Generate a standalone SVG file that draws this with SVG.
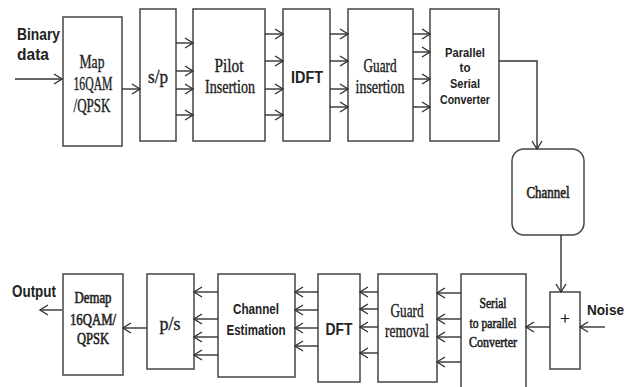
<svg xmlns="http://www.w3.org/2000/svg" width="627" height="387" viewBox="0 0 627 387">
<defs>
<marker id="ah" markerWidth="12" markerHeight="12" refX="10" refY="6" orient="auto" markerUnits="userSpaceOnUse">
<path d="M2,1 L10,6 L2,11" fill="none" stroke="#333" stroke-width="1.4"/>
</marker>
<style>
.box{fill:#fff;stroke:#444;stroke-width:1.5}
.ar{fill:none;stroke:#333;stroke-width:1.4;marker-end:url(#ah)}
.sf{font-family:"Liberation Serif",serif;fill:#222;stroke:#222;stroke-width:0.35;text-anchor:middle}
.sb{stroke-width:0.6}
.ss{font-family:"Liberation Sans",sans-serif;font-weight:bold;fill:#222}
.c{text-anchor:middle}
</style>
</defs>
<rect width="627" height="387" fill="#fff"/>

<g id="labels">
<text class="ss" x="17" y="40" font-size="17" textLength="43" lengthAdjust="spacingAndGlyphs">Binary</text>
<text class="ss" x="17" y="60" font-size="17" textLength="32" lengthAdjust="spacingAndGlyphs">data</text>
<text class="ss" x="12" y="297" font-size="16" textLength="44" lengthAdjust="spacingAndGlyphs">Output</text>
<text class="ss" x="587" y="315" font-size="15" textLength="37" lengthAdjust="spacingAndGlyphs">Noise</text>
</g>

<g id="map">
<rect class="box" x="63" y="17" width="59" height="129"/>
<text class="sf" x="92" y="68" font-size="18" textLength="25" lengthAdjust="spacingAndGlyphs">Map</text>
<text class="sf" x="93" y="90" font-size="18" textLength="39" lengthAdjust="spacingAndGlyphs">16QAM</text>
<text class="sf" x="92" y="112" font-size="18" textLength="37" lengthAdjust="spacingAndGlyphs">/QPSK</text>
</g>
<g id="sp">
<rect class="box" x="140" y="9" width="36" height="132"/>
<text class="sf" x="158" y="83" font-size="18" textLength="20" lengthAdjust="spacingAndGlyphs">s/p</text>
</g>
<g id="pilot">
<rect class="box" x="193" y="9" width="72" height="132"/>
<text class="sf" x="229" y="72" font-size="18" textLength="29" lengthAdjust="spacingAndGlyphs">Pilot</text>
<text class="sf" x="230" y="93" font-size="18" textLength="50" lengthAdjust="spacingAndGlyphs">Insertion</text>
</g>
<g id="idft">
<rect class="box" x="283" y="9" width="47" height="132"/>
<text class="ss c" x="307" y="83" font-size="16" textLength="32" lengthAdjust="spacingAndGlyphs">IDFT</text>
</g>
<g id="guardins">
<rect class="box" x="348" y="9" width="65" height="132"/>
<text class="sf" x="380" y="72" font-size="18" textLength="33" lengthAdjust="spacingAndGlyphs">Guard</text>
<text class="sf" x="380" y="93" font-size="18" textLength="49" lengthAdjust="spacingAndGlyphs">insertion</text>
</g>
<g id="p2s">
<rect class="box" x="430" y="9" width="69" height="132"/>
<text class="ss c" x="465" y="57" font-size="13" textLength="40" lengthAdjust="spacingAndGlyphs">Parallel</text>
<text class="ss c" x="465" y="72" font-size="13" textLength="11" lengthAdjust="spacingAndGlyphs">to</text>
<text class="ss c" x="465" y="88" font-size="13" textLength="30" lengthAdjust="spacingAndGlyphs">Serial</text>
<text class="ss c" x="465" y="104" font-size="13" textLength="50" lengthAdjust="spacingAndGlyphs">Converter</text>
</g>
<g id="channel">
<rect class="box" x="512" y="149" width="72" height="86" rx="12"/>
<text class="sf sb" x="548" y="198" font-size="16" textLength="43" lengthAdjust="spacingAndGlyphs">Channel</text>
</g>
<g id="adder">
<rect class="box" x="550" y="292" width="30" height="77"/>
<text class="sf" x="565" y="324" font-size="17">+</text>
</g>
<g id="s2p">
<rect class="box" x="461" y="274" width="65" height="116"/>
<text class="sf sb" x="493" y="308" font-size="15" textLength="27" lengthAdjust="spacingAndGlyphs">Serial</text>
<text class="sf sb" x="493" y="328" font-size="15" textLength="47" lengthAdjust="spacingAndGlyphs">to parallel</text>
<text class="sf sb" x="493" y="347" font-size="15" textLength="48" lengthAdjust="spacingAndGlyphs">Converter</text>
</g>
<g id="guardrem">
<rect class="box" x="378" y="274" width="59" height="108"/>
<text class="sf" x="407" y="317" font-size="18" textLength="33" lengthAdjust="spacingAndGlyphs">Guard</text>
<text class="sf" x="407" y="337" font-size="18" textLength="44" lengthAdjust="spacingAndGlyphs">removal</text>
</g>
<g id="dft">
<rect class="box" x="318" y="274" width="42" height="108"/>
<text class="ss c" x="339" y="335" font-size="16" textLength="27" lengthAdjust="spacingAndGlyphs">DFT</text>
</g>
<g id="chest">
<rect class="box" x="218" y="274" width="77" height="103"/>
<text class="ss c" x="256" y="314" font-size="15" textLength="46" lengthAdjust="spacingAndGlyphs">Channel</text>
<text class="ss c" x="256" y="335" font-size="15" textLength="59" lengthAdjust="spacingAndGlyphs">Estimation</text>
</g>
<g id="ps">
<rect class="box" x="147" y="274" width="47" height="95"/>
<text class="sf" x="170" y="330" font-size="18" textLength="21" lengthAdjust="spacingAndGlyphs">p/s</text>
</g>
<g id="demap">
<rect class="box" x="63" y="274" width="60" height="101"/>
<text class="sf sb" x="93" y="303" font-size="16" textLength="37" lengthAdjust="spacingAndGlyphs">Demap</text>
<text class="sf sb" x="93" y="325" font-size="16" textLength="46" lengthAdjust="spacingAndGlyphs">16QAM/</text>
<text class="sf sb" x="93" y="344" font-size="16" textLength="32" lengthAdjust="spacingAndGlyphs">QPSK</text>
</g>

<g id="connectors">
<line class="ar" x1="15" y1="79" x2="62" y2="79"/>
<line class="ar" x1="122" y1="89" x2="140" y2="89"/>
<line class="ar" x1="176" y1="43" x2="193" y2="43"/>
<line class="ar" x1="176" y1="71" x2="193" y2="71"/>
<line class="ar" x1="176" y1="89" x2="193" y2="89"/>
<line class="ar" x1="176" y1="115" x2="193" y2="115"/>
<line class="ar" x1="265" y1="34" x2="283" y2="34"/>
<line class="ar" x1="265" y1="61" x2="283" y2="61"/>
<line class="ar" x1="265" y1="89" x2="283" y2="89"/>
<line class="ar" x1="265" y1="115" x2="283" y2="115"/>
<line class="ar" x1="330" y1="34" x2="348" y2="34"/>
<line class="ar" x1="330" y1="61" x2="348" y2="61"/>
<line class="ar" x1="330" y1="89" x2="348" y2="89"/>
<line class="ar" x1="330" y1="107" x2="348" y2="107"/>
<line class="ar" x1="413" y1="34" x2="430" y2="34"/>
<line class="ar" x1="413" y1="52" x2="430" y2="52"/>
<line class="ar" x1="413" y1="79" x2="430" y2="79"/>
<line class="ar" x1="413" y1="107" x2="430" y2="107"/>
<path class="ar" d="M499,61 L537,61 L537,149"/>
<line class="ar" x1="561" y1="235" x2="561" y2="292"/>
<line class="ar" x1="605" y1="327" x2="580" y2="327"/>
<line class="ar" x1="550" y1="327" x2="526" y2="327"/>
<line class="ar" x1="461" y1="293" x2="437" y2="293"/>
<line class="ar" x1="461" y1="319" x2="437" y2="319"/>
<line class="ar" x1="461" y1="337" x2="437" y2="337"/>
<line class="ar" x1="461" y1="362" x2="437" y2="362"/>
<line class="ar" x1="378" y1="292" x2="360" y2="292"/>
<line class="ar" x1="378" y1="309" x2="360" y2="309"/>
<line class="ar" x1="378" y1="327" x2="360" y2="327"/>
<line class="ar" x1="378" y1="353" x2="360" y2="353"/>
<line class="ar" x1="318" y1="292" x2="295" y2="292"/>
<line class="ar" x1="318" y1="310" x2="295" y2="310"/>
<line class="ar" x1="318" y1="328" x2="295" y2="328"/>
<line class="ar" x1="318" y1="346" x2="295" y2="346"/>
<line class="ar" x1="218" y1="292" x2="194" y2="292"/>
<line class="ar" x1="218" y1="319" x2="194" y2="319"/>
<line class="ar" x1="218" y1="337" x2="194" y2="337"/>
<line class="ar" x1="218" y1="355" x2="194" y2="355"/>
<line class="ar" x1="147" y1="328" x2="123" y2="328"/>
<line class="ar" x1="62" y1="310" x2="40" y2="310"/>
</g>
</svg>
